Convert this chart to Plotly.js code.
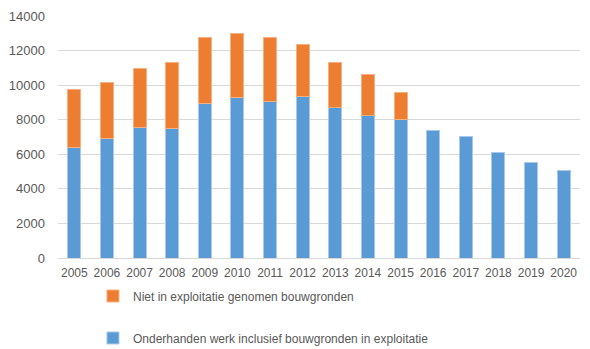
<!DOCTYPE html>
<html><head><meta charset="utf-8">
<script src="https://cdn.plot.ly/plotly-3.0.1.min.js"></script>
<style>html,body{margin:0;padding:0;background:#fff}#chart{width:590px;height:349px}</style>
</head><body><div id="chart"></div>
<script>
const years = ['2005','2006','2007','2008','2009','2010','2011','2012','2013','2014','2015','2016','2017','2018','2019','2020'];
const onderhanden = [6370,6910,7560,7520,8930,9260,9080,9350,8680,8240,8020,7370,7020,6100,5520,5070];
const nietInExploitatie = [3370,3250,3400,3780,3840,3700,3650,3000,2640,2350,1530,null,null,null,null,null];
const nameBlue = 'Onderhanden werk inclusief bouwgronden in exploitatie';
const nameOrange = 'Niet in exploitatie genomen bouwgronden';

const traces = [
  {type:'bar', x:years, y:onderhanden, name:nameBlue, legendgroup:'b', legendrank:2,
   marker:{color:'#5b9bd5', line:{color:'#a9c8ea', width:1}}},
  {type:'bar', x:years, y:nietInExploitatie, name:nameOrange, legendgroup:'o', legendrank:1,
   marker:{color:'#ed7d31', line:{color:'#f4b183', width:1}}}
];
const layout = {
  width:590, height:349,
  margin:{l:58, r:10, t:16, b:91, autoexpand:false},
  barmode:'stack', bargap:0.6,
  paper_bgcolor:'#fff', plot_bgcolor:'#fff',
  font:{family:'Liberation Sans, Arial, sans-serif', size:12, color:'#595959'},
  xaxis:{type:'category', showgrid:false, showline:true, linecolor:'#d9d9d9', linewidth:1,
         ticks:'', ticklabelstandoff:4, tickfont:{size:12, color:'#595959'}, fixedrange:true,
         automargin:false},
  yaxis:{range:[0,14000], dtick:2000, tickformat:'d', showgrid:true, gridcolor:'#d9d9d9', gridwidth:1,
         zeroline:false, showline:false, ticks:'', ticklabelstandoff:12, tickfont:{size:13, color:'#595959'},
         automargin:false},
  showlegend:true,
  legend:{orientation:'v', x:0.067, xanchor:'left', y:-0.097, yanchor:'top',
          traceorder:'grouped', tracegroupgap:23,
          font:{size:12, color:'#595959'}, bgcolor:'rgba(0,0,0,0)'}
};
Plotly.newPlot('chart', traces, layout, {displayModeBar:false, staticPlot:true});
</script></body></html>
